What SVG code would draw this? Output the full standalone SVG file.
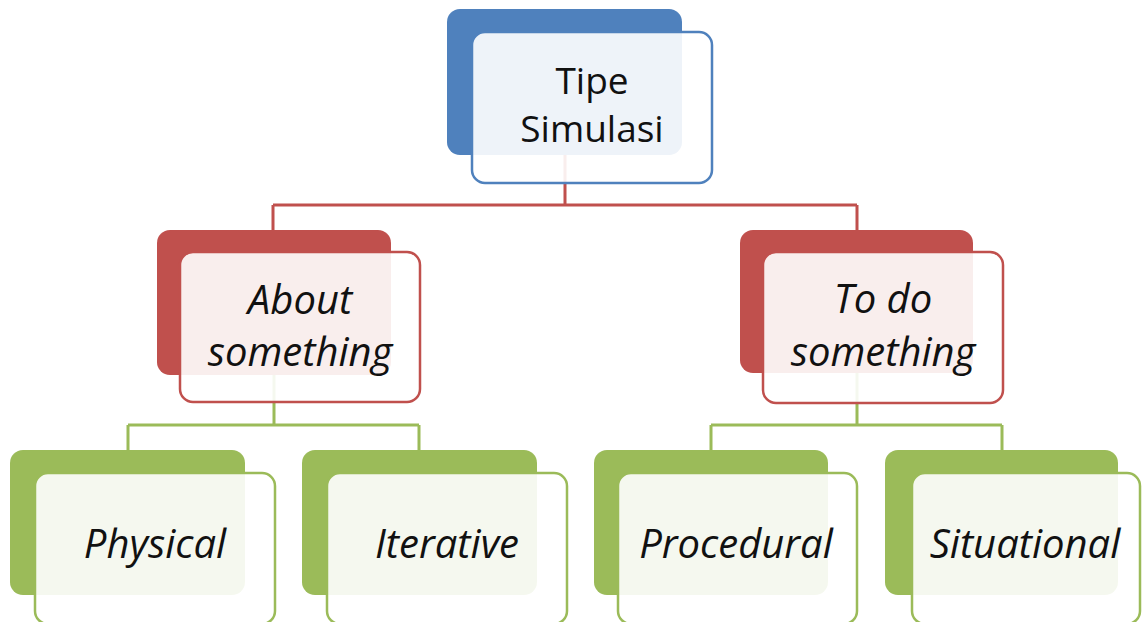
<svg xmlns="http://www.w3.org/2000/svg" width="1142" height="622" viewBox="0 0 1142 622">
<style>
.bg{fill:#ffffff}
.back{stroke:none}
.front{fill:#ffffff;fill-opacity:0.9;stroke-width:2.5}
.blue .back{fill:#4f81bd}.blue .front{stroke:#4f81bd}
.red .back{fill:#c0504d}.red .front{stroke:#c0504d}
.green .back{fill:#9bbb59}.green .front{stroke:#9bbb59}
.lbl{font-family:"Open Sans","Liberation Sans",sans-serif;font-size:40px;fill:#111;text-anchor:middle}
.top{font-size:37px}
.it{font-style:italic}
.conn{fill:none;stroke-width:3}
.cr{stroke:#c0504d}.cg{stroke:#9bbb59}
</style>
<rect class="bg" width="1142" height="622"/>
<g id="connectors">
<path class="conn cr" d="M565 155V205M273 205H857M273 205V230M857 205V230"/>
<path class="conn cg" d="M274 375V425M128 425H419M128 425V450M419 425V450"/>
<path class="conn cg" d="M857 373V425M711 425H1002M711 425V450M1002 425V450"/>
</g>
<g id="node-tipe" class="blue">
<rect class="back" x="447" y="9" width="235" height="146" rx="13"/>
<rect class="front" x="472" y="32" width="240" height="151" rx="13"/>
<text class="lbl top" x="592" y="94">Tipe</text>
<text class="lbl top" x="592" y="142">Simulasi</text>
</g>
<g id="node-about" class="red">
<rect class="back" x="157" y="230" width="234" height="145" rx="13"/>
<rect class="front" x="180" y="252" width="240" height="150" rx="13"/>
<text class="lbl it" x="300" y="314">About</text>
<text class="lbl it" x="300" y="366">something</text>
</g>
<g id="node-todo" class="red">
<rect class="back" x="740" y="230" width="233" height="143" rx="13"/>
<rect class="front" x="763" y="252" width="240" height="151" rx="13"/>
<text class="lbl it" x="883" y="313">To do</text>
<text class="lbl it" x="883" y="366">something</text>
</g>
<g id="node-physical" class="green">
<rect class="back" x="10" y="450" width="235" height="145" rx="13"/>
<rect class="front" x="35" y="473" width="240" height="151" rx="13"/>
<text class="lbl it" x="155" y="558">Physical</text>
</g>
<g id="node-iterative" class="green">
<rect class="back" x="302" y="450" width="235" height="145" rx="13"/>
<rect class="front" x="327" y="473" width="240" height="151" rx="13"/>
<text class="lbl it" x="447" y="558">Iterative</text>
</g>
<g id="node-procedural" class="green">
<rect class="back" x="594" y="450" width="234" height="145" rx="13"/>
<rect class="front" x="618" y="473" width="239" height="151" rx="13"/>
<text class="lbl it" x="736" y="558">Procedural</text>
</g>
<g id="node-situational" class="green">
<rect class="back" x="885" y="450" width="233" height="145" rx="13"/>
<rect class="front" x="912" y="473" width="228" height="151" rx="13"/>
<text class="lbl it" x="1025" y="558">Situational</text>
</g>
</svg>
